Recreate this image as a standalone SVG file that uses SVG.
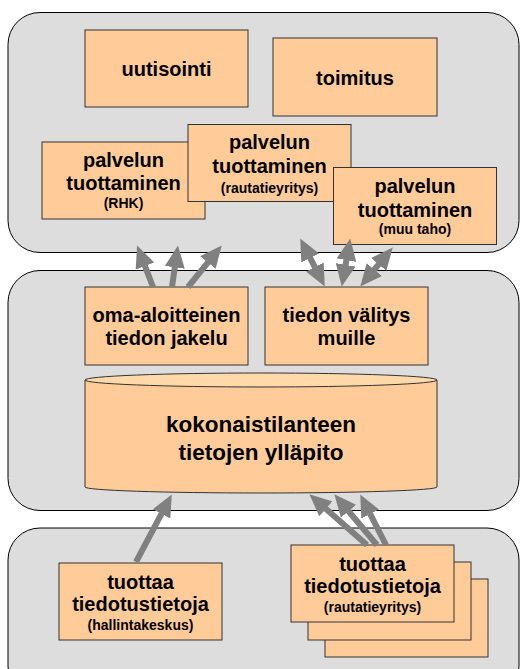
<svg xmlns="http://www.w3.org/2000/svg" width="520" height="669" viewBox="0 0 520 669">
<style>
.panel{fill:#DDDDDD;stroke:#000;stroke-width:1}
.box{fill:#FFCC99;stroke:#333;stroke-width:1}
.t{font-family:"Liberation Sans",Arial,sans-serif;font-weight:bold;font-size:20px;text-anchor:middle;fill:#000}
.s{font-size:14px}
.big{font-size:22.5px}
.arr{stroke:#808080;stroke-width:6;fill:none}
</style>
<defs>
<marker id="ah" markerUnits="userSpaceOnUse" viewBox="0 0 22 20" markerWidth="22" markerHeight="20" refX="0.5" refY="10" orient="auto-start-reverse">
<path d="M0,0 L22,10 L0,20 z" fill="#808080"/>
</marker>
</defs>
<rect width="520" height="669" fill="#fff"/>
<g id="panels">
<rect class="panel" x="8" y="12.5" width="511" height="240" rx="32"/>
<rect class="panel" x="8" y="270.5" width="511" height="240" rx="32"/>
<rect class="panel" x="8" y="528" width="511" height="170" rx="32"/>
</g>
<g id="uutisointi"><rect class="box" x="85" y="30" width="163" height="77"/><text class="t" x="166.5" y="76">uutisointi</text></g>
<g id="toimitus"><rect class="box" x="273" y="38" width="164" height="78"/><text class="t" x="355" y="85">toimitus</text></g>
<g id="palvelun-rhk"><rect class="box" x="42" y="142" width="163" height="77"/><text class="t" x="123.5" y="167">palvelun</text><text class="t" x="123.5" y="190">tuottaminen</text><text class="t s" x="123.5" y="208">(RHK)</text></g>
<g id="palvelun-rautatieyritys"><rect class="box" x="188" y="124.5" width="163" height="77"/><text class="t" x="269.5" y="149">palvelun</text><text class="t" x="269.5" y="173">tuottaminen</text><text class="t s" x="269.5" y="193">(rautatieyritys)</text></g>
<g id="palvelun-muu"><rect class="box" x="333.5" y="167.5" width="163" height="77"/><text class="t" x="415" y="193">palvelun</text><text class="t" x="415" y="217">tuottaminen</text><text class="t s" x="415" y="234">(muu taho)</text></g>
<g id="oma-aloitteinen"><rect class="box" x="85" y="287" width="163" height="78"/><text class="t" x="166.5" y="322">oma-aloitteinen</text><text class="t" x="166.5" y="345">tiedon jakelu</text></g>
<g id="tiedon-valitys"><rect class="box" x="265" y="287" width="163" height="78"/><text class="t" x="346.5" y="322">tiedon välitys</text><text class="t" x="346.5" y="345">muille</text></g>
<g id="kokonaistilanne">
<path class="box" d="M85,380 L85,487 A176,6 0 0 0 437,487 L437,380 z"/>
<ellipse cx="261" cy="380" rx="176" ry="7" fill="#FFD9AA" stroke="#333" stroke-width="1"/>
<text class="t big" x="261" y="432">kokonaistilanteen</text><text class="t big" x="261" y="460">tietojen ylläpito</text>
</g>
<g id="hallintakeskus"><rect class="box" x="59" y="563" width="163" height="77"/><text class="t" x="140.5" y="589">tuottaa</text><text class="t" x="140.5" y="611">tiedotustietoja</text><text class="t s" x="140.5" y="630">(hallintakeskus)</text></g>
<g id="rautatieyritys-stack">
<rect class="box" x="325" y="579" width="163" height="78"/>
<rect class="box" x="308" y="562" width="163" height="78"/>
<rect class="box" x="291" y="545" width="163" height="77"/>
<text class="t" x="372.5" y="571">tuottaa</text><text class="t" x="372.5" y="593">tiedotustietoja</text><text class="t s" x="372.5" y="612">(rautatieyritys)</text>
</g>
<g id="connectors">
<line class="arr" x1="153" y1="287" x2="144.8" y2="265.6" marker-end="url(#ah)"/>
<line class="arr" x1="172" y1="287" x2="174.9" y2="266.8" marker-end="url(#ah)"/>
<line class="arr" x1="188" y1="287" x2="208.2" y2="262.1" marker-end="url(#ah)"/>
<line class="arr" x1="315" y1="267.4" x2="310" y2="257.6" marker-start="url(#ah)" marker-end="url(#ah)"/>
<line class="arr" x1="345.5" y1="265.3" x2="346.5" y2="259.7" marker-start="url(#ah)" marker-end="url(#ah)"/>
<line class="arr" x1="374" y1="270" x2="379" y2="264" marker-start="url(#ah)" marker-end="url(#ah)"/>
<line class="arr" x1="136" y1="562" x2="161.7" y2="513.4" marker-end="url(#ah)"/>
<line class="arr" x1="367" y1="545" x2="325.5" y2="508.5" marker-end="url(#ah)"/>
<line class="arr" x1="377" y1="545" x2="348.2" y2="510.8" marker-end="url(#ah)"/>
<line class="arr" x1="386" y1="545" x2="370" y2="513.6" marker-end="url(#ah)"/>
</g>
</svg>
